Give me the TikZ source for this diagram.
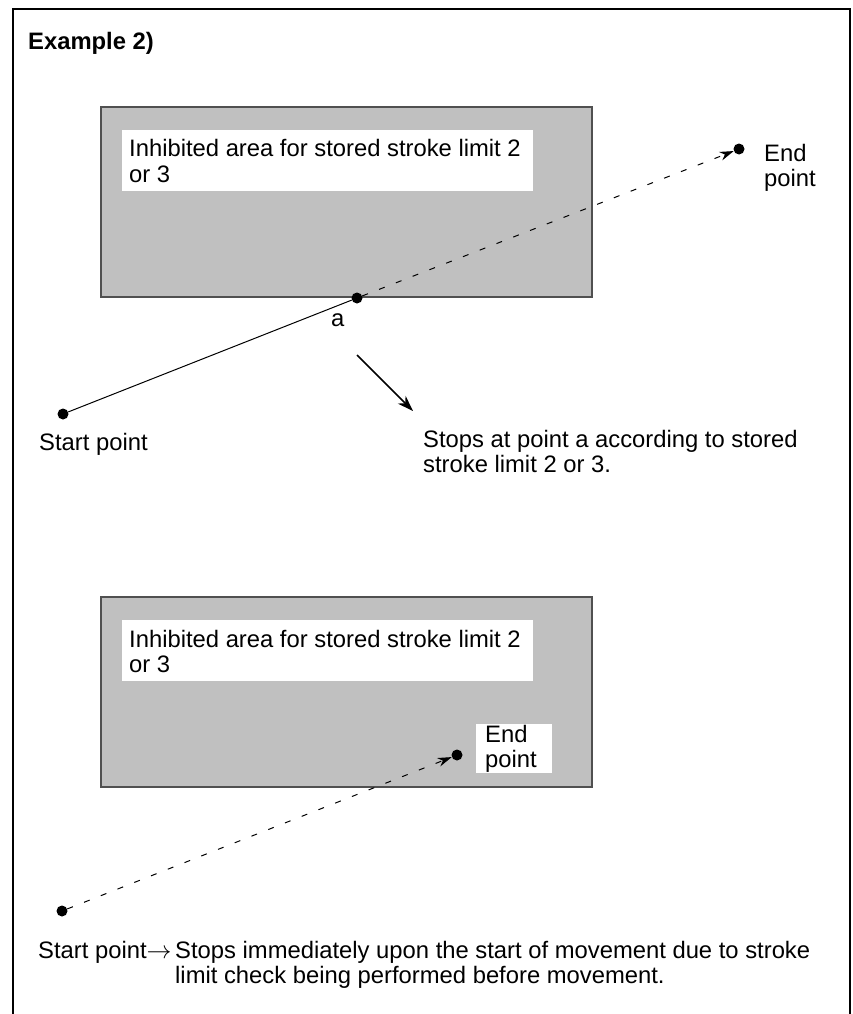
\documentclass[tikz,border=0pt]{standalone}
\usepackage{fontspec}
\setmainfont{Liberation Sans}
\usetikzlibrary{arrows.meta}
\definecolor{zonegray}{HTML}{C0C0C0}
\definecolor{zoneedge}{HTML}{505050}
\begin{document}
\begin{tikzpicture}[x=1pt,y=-1pt,
  txt/.style={anchor=base west,inner sep=0pt,font=\fontsize{23.8}{26}\selectfont},
  title/.style={anchor=base west,inner sep=0pt,font=\fontsize{23.8}{26}\selectfont\bfseries},
  dot/.style={circle,fill=black,inner sep=0pt,minimum size=11pt},
  zone/.style={fill=zonegray,draw=zoneedge,line width=1.5pt},
  labelbg/.style={fill=white},
  solidmove/.style={line width=1pt},
  dashmove/.style={line width=1pt,dash pattern=on 6pt off 12pt,-{Stealth[length=14pt,width=9pt]}},
  pointer/.style={line width=1.5pt,-{Stealth[length=16pt,width=11pt]}}
]
\useasboundingbox (0,0) rectangle (853,1014);
\fill[white] (0,0) rectangle (853,1014);
% outer frame (open at bottom)
\draw[line width=2pt] (12.5,1016) -- (12.5,9.5) -- (850,9.5) -- (850,1016);

\node[title] (ttl) at (28,50) {Example 2)};

% ---------- upper example ----------
\draw[zone] (101,107) rectangle (592,297);
\fill[labelbg] (122,130) rectangle (533,191);
\node[txt] (l1a) at (129,157) {Inhibited area for stored stroke limit 2};
\node[txt] (l1b) at (129,182) {or 3};

\node[dot] (s1) at (63,414) {};
\node[dot] (a) at (357,298) {};
\node[dot] (e1) at (739,149) {};
\draw[solidmove] (s1) -- (a);
\draw[dashmove] (a) -- (e1);

\node[txt] (alab) at (331,326) {a};
\node[txt] (e1a) at (764,161) {End};
\node[txt] (e1b) at (764,186) {point};
\node[txt] (s1lab) at (39,450) {Start point};

\coordinate (p0) at (357,355);
\coordinate (p1) at (413,411);
\draw[pointer] (p0) -- (p1);

\node[txt] (stop1a) at (423,447) {Stops at point a according to stored};
\node[txt] (stop1b) at (423,472) {stroke limit 2 or 3.};

% ---------- lower example ----------
\draw[zone] (101,597) rectangle (592,787);
\fill[labelbg] (122,620) rectangle (533,681);
\node[txt] (l2a) at (129,647) {Inhibited area for stored stroke limit 2};
\node[txt] (l2b) at (129,672) {or 3};

\fill[labelbg] (476,724) rectangle (552,773);
\node[txt] (e2a) at (485,742) {End};
\node[txt] (e2b) at (485,767) {point};

\node[dot] (s2) at (62,911) {};
\node[dot] (e2) at (457,755) {};
\draw[dashmove] (s2) -- (e2);

\node[txt] (s2lab) at (38,958) {Start point$\rightarrow$};
\node[txt] (stop2a) at (175,958) {Stops immediately upon the start of movement due to stroke};
\node[txt] (stop2b) at (175,983) {limit check being performed before movement.};
\end{tikzpicture}
\end{document}
